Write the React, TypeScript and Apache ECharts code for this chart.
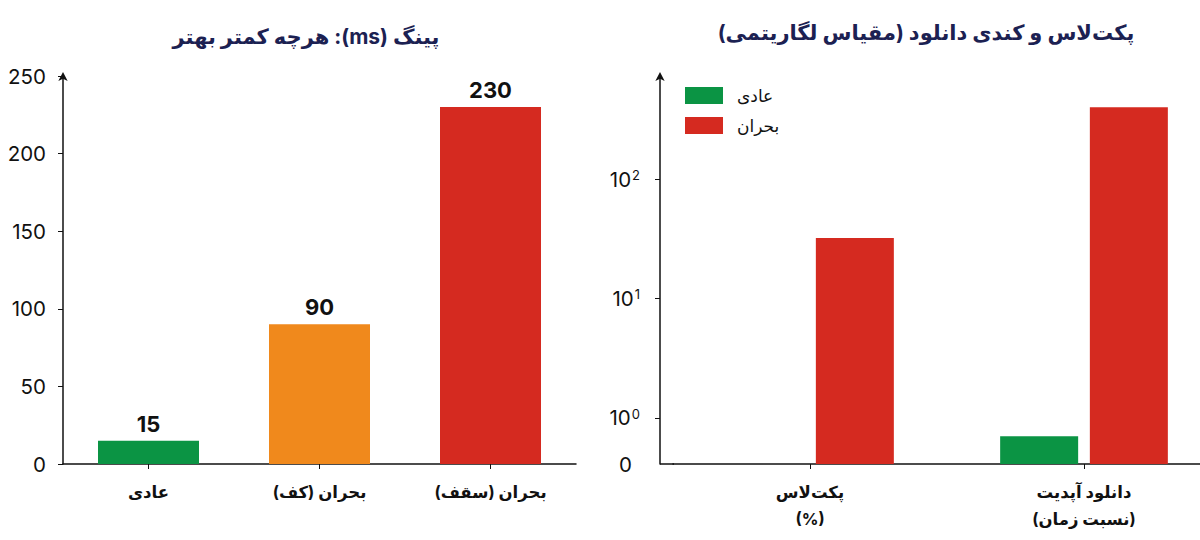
import React, { useEffect, useRef } from 'react';
import * as echarts from 'echarts';

// ---- data ----
const pingCategories = ['عادی', 'بحران (کف)', 'بحران (سقف)'];
const pingValues = [15, 90, 230];
const pingColors = ['#0b9444', '#f0891c', '#d52a20'];

const lossCategories = ['پکت‌لاس\n(%)', 'دانلود آپدیت\n(نسبت زمان)'];
const seriesNames = ['عادی', 'بحران'];
const normalValues = [0, 0.7];
const crisisValues = [32, 400];
const logTicks = [1, 10, 100];

const titleLeft = 'پینگ (ms): هرچه کمتر بهتر';
const titleRight = 'پکت‌لاس و کندی دانلود (مقیاس لگاریتمی)';

const rtl = (s: string) => s.split('\n').map((l) => '\u2067' + l + '\u2069').join('\n');

const FONT = "Inter, 'DejaVu Sans', sans-serif";
const GREEN = '#0b9444';
const RED = '#d52a20';
const INK = '#111111';
const NAVY = '#1c2152';

export default function App() {
  const ref = useRef<HTMLDivElement>(null);
  useEffect(() => {
    if (!ref.current) return;
    document.documentElement.style.overflow = 'hidden';
    document.body.style.overflow = 'hidden';
    const chart = echarts.init(ref.current, undefined, { renderer: 'svg' });
    const logMin = 0.41;
    const logMax = 730;
    const axisLine = {
      show: true,
      lineStyle: { color: INK, width: 1.5 },
    };
    const catLabel = {
      fontSize: 16.5,
      fontWeight: 'bold',
      color: INK,
      margin: 14,
      lineHeight: 27,
      fontFamily: FONT,
    };
    chart.setOption({
      animation: false,
      backgroundColor: '#ffffff',
      textStyle: { fontFamily: FONT },
      title: [
        {
          text: rtl(titleLeft),
          left: 301,
          top: 21,
          textAlign: 'center',
          textStyle: { fontSize: 21, fontWeight: 'bold', color: NAVY, fontFamily: FONT },
        },
        {
          text: rtl(titleRight),
          left: 921,
          top: 17,
          textAlign: 'center',
          textStyle: { fontSize: 21, fontWeight: 'bold', color: NAVY, fontFamily: FONT },
        },
      ],
      legend: {
        data: seriesNames,
        orient: 'vertical',
        left: 685,
        top: 87,
        padding: 0,
        itemWidth: 38,
        itemHeight: 17,
        itemGap: 13,
        icon: 'rect',
        textStyle: { fontSize: 17, color: INK, fontFamily: FONT, padding: [0, 0, 0, 9] },
      },
      grid: [
        { left: 63, top: 76, width: 513, height: 388 },
        { left: 673, top: 76, width: 548, height: 388 },
      ],
      xAxis: [
        {
          type: 'category',
          gridIndex: 0,
          data: pingCategories.map(rtl),
          axisLine,
          axisTick: { show: true, alignWithLabel: true, length: 5, lineStyle: { color: INK } },
          axisLabel: catLabel,
        },
        {
          type: 'category',
          gridIndex: 1,
          data: lossCategories.map(rtl),
          axisLine,
          axisTick: { show: true, alignWithLabel: true, length: 5, lineStyle: { color: INK } },
          axisLabel: catLabel,
        },
      ],
      yAxis: [
        {
          type: 'value',
          gridIndex: 0,
          min: 0,
          max: 250,
          interval: 50,
          axisLine: { ...axisLine, symbol: ['none', 'arrow'], symbolSize: [7, 9], symbolOffset: [0, 4] },
          axisTick: { show: true, length: 5, lineStyle: { color: INK } },
          splitLine: { show: false },
          axisLabel: { fontSize: 20.5, color: INK, margin: 17, fontFamily: FONT },
        },
        {
          type: 'log',
          gridIndex: 1,
          logBase: 10,
          min: logMin,
          max: logMax,
          startValue: logMin,
          offset: 13,
          axisLine: { ...axisLine, symbol: ['none', 'arrow'], symbolSize: [7, 9], symbolOffset: [0, 4] },
          axisTick: { show: true, length: 5, lineStyle: { color: INK }, customValues: logTicks },
          splitLine: { show: false },
          axisLabel: {
            customValues: [logMin, ...logTicks],
            margin: 20,
            formatter: (v: number) => {
              if (v < 0.9) return '{z|0}';
              const e = Math.round(Math.log10(v));
              return '{b|10}{s|' + e + '}';
            },
            rich: {
              z: { fontSize: 20.5, color: INK, fontFamily: FONT, padding: [0, 8, 0, 0] },
              b: { fontSize: 20.5, color: INK, fontFamily: FONT },
              s: { fontSize: 13, color: INK, fontFamily: FONT, verticalAlign: 'top', padding: [0, 0, 8, 1] },
            },
          },
        },
      ],
      series: [
        {
          type: 'bar',
          xAxisIndex: 0,
          yAxisIndex: 0,
          barWidth: 101,
          data: pingValues.map((v, i) => ({ value: v, itemStyle: { color: pingColors[i] } })),
          label: {
            show: true,
            position: 'top',
            distance: 6,
            fontSize: 22,
            fontWeight: 'bold',
            color: INK,
            fontFamily: FONT,
          },
        },
        {
          type: 'bar',
          name: seriesNames[0],
          xAxisIndex: 1,
          yAxisIndex: 1,
          barWidth: 78,
          barGap: '15%',
          itemStyle: { color: GREEN },
          data: normalValues.map((v) => (v > 0 ? v : '-')),
        },
        {
          type: 'bar',
          name: seriesNames[1],
          xAxisIndex: 1,
          yAxisIndex: 1,
          barWidth: 78,
          barGap: '15%',
          itemStyle: { color: RED },
          data: crisisValues,
        },
      ],
      graphic: [
        {
          type: 'line',
          shape: { x1: 660, y1: 464, x2: 674, y2: 464 },
          style: { stroke: INK, lineWidth: 1.5 },
        },
      ],
    });
    return () => chart.dispose();
  }, []);
  return (
    <div
      ref={ref}
      style={{ width: 1230, height: 540, position: 'fixed', left: 0, top: 0, background: '#fff' }}
    />
  );
}
